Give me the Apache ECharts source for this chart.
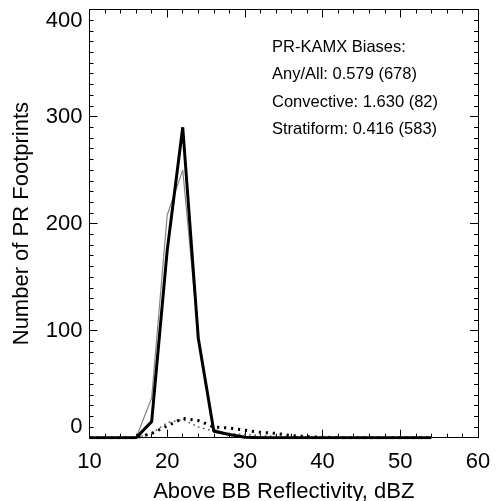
<!DOCTYPE html>
<html>
<head>
<meta charset="utf-8">
<script src="https://cdn.jsdelivr.net/npm/echarts@6/dist/echarts.min.js"></script>
<style>html,body{margin:0;padding:0;background:#fff}#c{width:496px;height:501px}</style>
</head>
<body>
<div id="c"></div>
<script>
// Reflectivity bin centres (dBZ)
var bins = [10,12,14,16,18,20,22,24,26,28,30,32,34,36,38,40,42,44,46,48,50,52,54];
// Thick solid (black)
var thickSolid = [0,0,0,0,15,175,290,93,6,3,0.5,0,0,0,0,0,0,0,0,0,0,0,0];
// Thin solid (gray)
var thinSolid  = [0,0,0,0,37,208,250,95,8,3,1,0,0,0,0,0,0,0,0,0,0,0,0];
// Thick dotted (black)
var thickDot   = [0,0,0,0,4,11,18,16,10,9,7,5,4,2,1,0.5,0,0,0,0,0,0,0];
// Thin dotted (gray)
var thinDot    = [0,0,0,0,4,14,17,10,6,4,3,2,1,1,0.5,0,0,0,0,0,0,0,0];
var xTicks = [10,20,30,40,50,60];
var yTicks = [0,100,200,300,400];
var biasLines = ['PR-KAMX Biases:','Any/All: 0.579 (678)','Convective: 1.630 (82)','Stratiform: 0.416 (583)'];

function pairs(v){ return bins.map(function(b,i){ return [b, v[i]]; }); }
var FONT = 'Liberation Sans, Arial, Helvetica, sans-serif';
var chart = echarts.init(document.getElementById('c'), null, {renderer:'canvas'});
function axBase(extra){
  return Object.assign({
    axisLine:{show:true, onZero:false, lineStyle:{color:'#000', width:1}},
    axisTick:{show:true, inside:true, length:8, lineStyle:{color:'#000'}},
    splitLine:{show:false}
  }, extra);
}
var option = {
  animation:false,
  backgroundColor:'#fff',
  grid:{left:89.5, right:18, top:9.5, bottom:63.3, containLabel:false, outerBoundsMode:'none'},
  xAxis:[
    axBase({type:'value', min:10, max:60, interval:10,
      minorTick:{show:true, splitNumber:5, length:4, lineStyle:{color:'#000'}},
      axisLabel:{fontSize:22, color:'#000', fontFamily:FONT, margin:13,
        formatter:function(v){ return xTicks.indexOf(v)>=0 ? String(v) : ''; }},
      name:'Above BB Reflectivity, dBZ', nameLocation:'middle', nameGap:43,
      nameTextStyle:{fontSize:22, color:'#000', fontFamily:FONT}}),
    axBase({type:'value', position:'top', min:10, max:60, interval:10,
      minorTick:{show:true, splitNumber:5, length:4, lineStyle:{color:'#000'}},
      axisLabel:{show:false}})
  ],
  yAxis:[
    axBase({type:'value', min:0, max:400, interval:100,
      minorTick:{show:true, splitNumber:10, length:4, lineStyle:{color:'#000'}},
      axisLabel:{fontSize:22, color:'#000', fontFamily:FONT, margin:7,
        verticalAlignMinLabel:'bottom', verticalAlignMaxLabel:'top',
        formatter:function(v){ return yTicks.indexOf(v)>=0 ? String(v) : ''; }},
      name:'Number of PR Footprints', nameLocation:'middle', nameGap:56.5,
      nameTextStyle:{fontSize:22, color:'#000', fontFamily:FONT}}),
    axBase({type:'value', position:'right', min:0, max:400, interval:100,
      minorTick:{show:true, splitNumber:10, length:4, lineStyle:{color:'#000'}},
      axisLabel:{show:false}})
  ],
  series:[
    {type:'line', data:pairs(thinSolid), symbol:'none', lineStyle:{color:'#858585', width:1.2}, z:2},
    {type:'line', data:pairs(thinDot), symbol:'none', lineStyle:{color:'#5a5a5a', width:1.6, type:[1.6,3.6]}, z:2},
    {type:'line', data:pairs(thickDot), symbol:'none', lineStyle:{color:'#000', width:3, type:[2.2,4.8]}, z:3},
    {type:'line', data:pairs(thickSolid), symbol:'none', lineStyle:{color:'#000', width:3}, z:4}
  ],
  graphic: biasLines.map(function(t,i){
    return {type:'text', left:272, top:[39,66,94,121][i],
      style:{text:t, font:'16.5px '+FONT, fill:'#000'}};
  })
};
chart.setOption(option);
</script>
</body>
</html>
